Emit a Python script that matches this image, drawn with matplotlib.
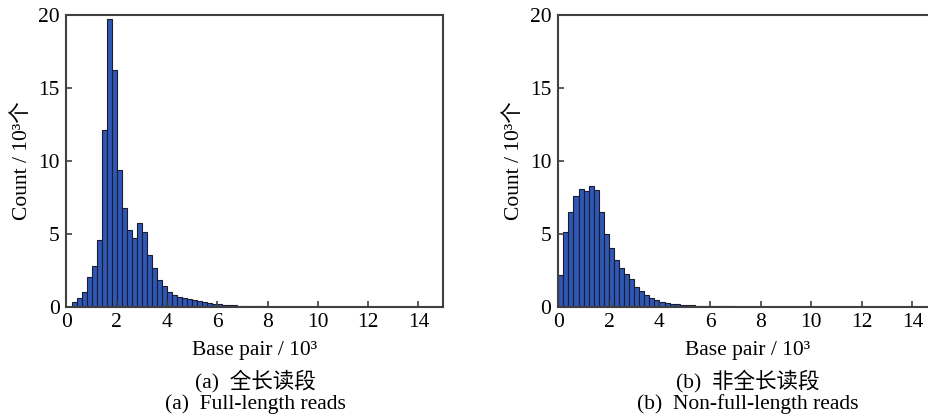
import numpy as np
import matplotlib
matplotlib.use("Agg")
import matplotlib.pyplot as plt

# ---- data (counts in 10^3, bins of 0.2 x 10^3 bp starting at 0) ----
bin_width = 0.2
full_counts = [0.0, 0.32, 0.59, 1.0, 2.05, 2.8, 4.6, 12.1, 19.7, 16.2,
               9.4, 6.75, 5.25, 4.7, 5.73, 5.16, 3.56, 2.65, 1.87, 1.44,
               1.03, 0.84, 0.71, 0.62, 0.55, 0.48, 0.39, 0.32, 0.27, 0.23,
               0.18, 0.16, 0.14, 0.11, 0.09, 0.08, 0.06, 0.05, 0.04, 0.04,
               0.03, 0.03]
nonfull_counts = [2.22, 5.16, 6.5, 7.57, 8.07, 7.96, 8.28, 8.03, 6.54, 4.98,
                  4.04, 3.21, 2.68, 2.27, 1.9, 1.38, 1.1, 0.8, 0.62, 0.46,
                  0.34, 0.28, 0.23, 0.2, 0.16, 0.14, 0.11, 0.1, 0.08, 0.07,
                  0.06, 0.05, 0.05, 0.04, 0.04, 0.03, 0.03, 0.03, 0.02, 0.02,
                  0.02, 0.02, 0.02, 0.01, 0.01]
xticks = [0, 2, 4, 6, 8, 10, 12, 14]
yticks = [0, 5, 10, 15, 20]
xlabel = "Base pair / 10\u00b3"
ylabel = "Count / 10\u00b3个"
captions_cn = ["(a)  全长读段", "(b)  非全长读段"]
captions_en = ["(a)  Full-length reads", "(b)  Non-full-length reads"]

FONT = ["Liberation Serif", "Noto Sans CJK SC", "DejaVu Sans"]
plt.rcParams["font.family"] = FONT
FS = 15.5
plt.rcParams["font.size"] = FS

W, H = 929, 416
fig = plt.figure(figsize=(W / 100, H / 100), dpi=100)

def px_axes(x0, x1, y0, y1):
    return fig.add_axes([x0 / W, 1 - y1 / H, (x1 - x0) / W, (y1 - y0) / H])

ax1 = px_axes(66.5, 443.5, 15, 307)
ax2 = px_axes(558.3, 937.8, 15, 307)

spine_col = "#404040"
for i, (ax, counts) in enumerate([(ax1, full_counts), (ax2, nonfull_counts)]):
    left = np.arange(len(counts)) * bin_width
    ax.bar(left, counts, width=bin_width, align="edge",
           color="#2F58B4", edgecolor="#1b1b33", linewidth=0.8)
    ax.set_xlim(0, 15)
    ax.set_ylim(0, 20)
    ax.set_xticks(xticks)
    ax.set_yticks(yticks)
    ax.tick_params(direction="in", length=4, width=1.2, color=spine_col,
                   labelsize=FS, top=False, right=False)
    ax.tick_params(axis="x", pad=4.5)
    ax.tick_params(axis="y", pad=5)
    for s in ax.spines.values():
        s.set_color(spine_col)
        s.set_linewidth(1.5)
    ax.set_xlabel(xlabel, fontsize=FS, labelpad=6)
    ax.set_ylabel(ylabel, fontsize=FS, labelpad=4)
    ax.text(0.5, -0.252, captions_cn[i], transform=ax.transAxes,
            ha="center", va="center", fontsize=FS)
    ax.text(0.5, -0.332, captions_en[i], transform=ax.transAxes,
            ha="center", va="center", fontsize=FS)

fig.savefig("out.png", dpi=100)
